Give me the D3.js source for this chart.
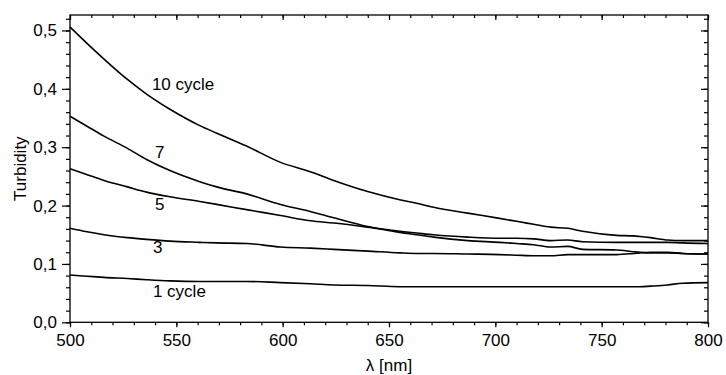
<!DOCTYPE html>
<html>
<head>
<meta charset="utf-8">
<script src="https://cdn.jsdelivr.net/npm/d3@7"></script>
<style>
body{margin:0;background:#fff;}
svg{display:block;}
text{font-family:"Liberation Sans",Arial,sans-serif;fill:#000;}
</style>
</head>
<body>
<svg id="chart" width="726" height="375"></svg>
<script>
// wavelength (nm) sample points
const wavelengths = [500, 508, 516, 527, 536, 547, 561, 569, 583, 599, 613, 624, 640, 655, 663, 671, 687, 702, 710, 718, 726, 734, 741, 757, 765, 768, 773, 781, 788, 800];
const cycle10 = [0.506, 0.478, 0.451, 0.416, 0.391, 0.365, 0.337, 0.324, 0.302, 0.274, 0.258, 0.243, 0.224, 0.210, 0.204, 0.197, 0.187, 0.178, 0.173, 0.168, 0.163, 0.161, 0.156, 0.149, 0.148, 0.147, 0.145, 0.141, 0.140, 0.140];
const cycle7  = [0.353, 0.336, 0.319, 0.298, 0.279, 0.260, 0.241, 0.232, 0.220, 0.202, 0.190, 0.179, 0.164, 0.154, 0.150, 0.146, 0.140, 0.137, 0.135, 0.133, 0.129, 0.130, 0.125, 0.124, 0.121, 0.120, 0.119, 0.119, 0.118, 0.117];
const cycle5  = [0.263, 0.253, 0.243, 0.232, 0.223, 0.215, 0.207, 0.202, 0.193, 0.183, 0.174, 0.170, 0.163, 0.156, 0.153, 0.150, 0.146, 0.144, 0.144, 0.143, 0.140, 0.141, 0.138, 0.137, 0.137, 0.137, 0.137, 0.137, 0.136, 0.135];
const cycle3  = [0.161, 0.155, 0.150, 0.145, 0.142, 0.139, 0.137, 0.136, 0.135, 0.129, 0.127, 0.125, 0.122, 0.119, 0.118, 0.118, 0.117, 0.116, 0.115, 0.114, 0.114, 0.116, 0.116, 0.116, 0.118, 0.119, 0.120, 0.120, 0.118, 0.117];
const cycle1  = [0.081, 0.079, 0.077, 0.075, 0.073, 0.071, 0.070, 0.070, 0.070, 0.068, 0.066, 0.064, 0.063, 0.061, 0.061, 0.061, 0.061, 0.061, 0.061, 0.061, 0.061, 0.061, 0.061, 0.061, 0.061, 0.061, 0.062, 0.064, 0.067, 0.068];
const seriesNames = ["10 cycle", "7", "5", "3", "1 cycle"];
const seriesValues = [cycle10, cycle7, cycle5, cycle3, cycle1];
// label anchor positions in data units (wavelength, turbidity)
const labelX = [538.5, 540, 540, 539, 539];
const labelY = [0.398, 0.282, 0.192, 0.118, 0.044];
const xTicks = [500, 550, 600, 650, 700, 750, 800];
const yTicks = [0.0, 0.1, 0.2, 0.3, 0.4, 0.5];

const svg = d3.select("#chart");
const mLeft = 70, mRight = 708, mTop = 15, mBottom = 322.3;
const x = d3.scaleLinear().domain([500, 800]).range([mLeft, mRight]);
const y = d3.scaleLinear().domain([0, 0.5265]).range([mBottom, mTop]);
const fmt = d => d3.format(".1f")(d).replace(".", ",");

// frame
svg.append("rect").attr("x", mLeft).attr("y", mTop).attr("width", mRight - mLeft).attr("height", mBottom - mTop)
  .attr("fill", "none").attr("stroke", "#000").attr("stroke-width", 1.3);

const minorX = d3.range(500, 801, 10);
const minorY = d3.range(0, 0.521, 0.02);

// bottom axis (outward ticks)
svg.append("g").attr("transform", `translate(0,${mBottom})`)
  .call(d3.axisBottom(x).tickValues(xTicks).tickSize(5).tickPadding(7).tickFormat(d3.format("d")));
svg.append("g").attr("transform", `translate(0,${mBottom})`)
  .call(d3.axisBottom(x).tickValues(minorX).tickSize(3).tickFormat(""));
// top axis (inward ticks)
svg.append("g").attr("transform", `translate(0,${mTop})`)
  .call(d3.axisBottom(x).tickValues(xTicks).tickSize(5).tickFormat(""));
svg.append("g").attr("transform", `translate(0,${mTop})`)
  .call(d3.axisBottom(x).tickValues(minorX).tickSize(3).tickFormat(""));
// left axis (outward ticks)
svg.append("g").attr("transform", `translate(${mLeft},0)`)
  .call(d3.axisLeft(y).tickValues(yTicks).tickSize(8).tickPadding(5).tickFormat(fmt));
svg.append("g").attr("transform", `translate(${mLeft},0)`)
  .call(d3.axisLeft(y).tickValues(minorY).tickSize(4).tickFormat(""));
// right axis (inward ticks)
svg.append("g").attr("transform", `translate(${mRight},0)`)
  .call(d3.axisLeft(y).tickValues(yTicks).tickSize(7).tickFormat(""));
svg.append("g").attr("transform", `translate(${mRight},0)`)
  .call(d3.axisLeft(y).tickValues(minorY).tickSize(4).tickFormat(""));

svg.selectAll(".domain").remove();
svg.selectAll(".tick line").attr("stroke", "#000").attr("stroke-width", 1.2);
svg.selectAll(".tick text").style("font-family", "'Liberation Sans',Arial,sans-serif").style("font-size", "17px").attr("fill", "#000");

// lines
const line = d3.line().x((d, i) => x(wavelengths[i])).y(d => y(d)).curve(d3.curveMonotoneX);
seriesValues.forEach(vals => {
  svg.append("path").datum(vals).attr("d", line)
    .attr("fill", "none").attr("stroke", "#000").attr("stroke-width", 1.6);
});

// labels
seriesNames.forEach((n, i) => {
  svg.append("text").attr("x", x(labelX[i])).attr("y", y(labelY[i])).text(n)
    .style("font-size", "17px");
});

// axis titles
svg.append("text").attr("x", (mLeft + mRight) / 2).attr("y", 371).attr("text-anchor", "middle")
  .style("font-size", "17px").text("λ [nm]");
svg.append("text").attr("transform", `translate(26,${(mTop + mBottom) / 2}) rotate(-90)`)
  .attr("text-anchor", "middle").style("font-size", "17px").text("Turbidity");
</script>
</body>
</html>
